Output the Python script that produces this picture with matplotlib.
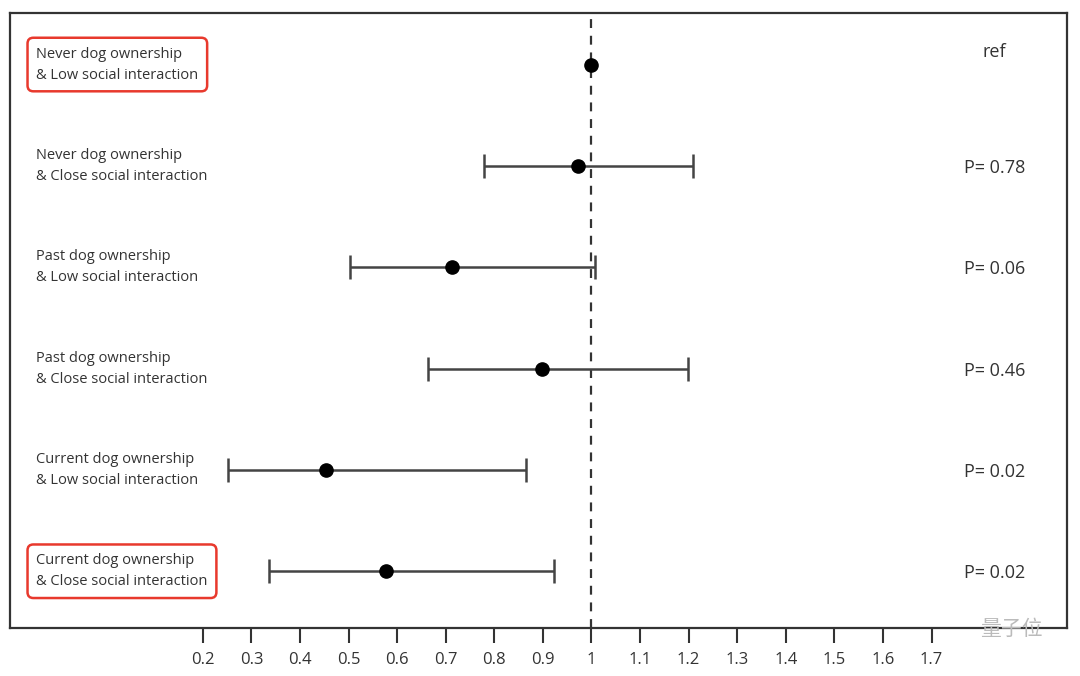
import matplotlib.pyplot as plt

# data
labels = ["Never dog ownership\n& Low social interaction",
          "Never dog ownership\n& Close social interaction",
          "Past dog ownership\n& Low social interaction",
          "Past dog ownership\n& Close social interaction",
          "Current dog ownership\n& Low social interaction",
          "Current dog ownership\n& Close social interaction"]
estimate = [1.0, 0.973, 0.712, 0.899, 0.453, 0.576]
ci_low = [1.0, 0.778, 0.502, 0.663, 0.251, 0.337]
ci_high = [1.0, 1.208, 1.008, 1.198, 0.866, 0.922]
p_text = ["ref", "P= 0.78", "P= 0.06", "P= 0.46", "P= 0.02", "P= 0.02"]
boxed = [True, False, False, False, False, True]
xticks = [0.2, 0.3, 0.4, 0.5, 0.6, 0.7, 0.8, 0.9, 1, 1.1, 1.2, 1.3, 1.4, 1.5, 1.6, 1.7]
xtick_labels = ["0.2", "0.3", "0.4", "0.5", "0.6", "0.7", "0.8", "0.9", "1",
                "1.1", "1.2", "1.3", "1.4", "1.5", "1.6", "1.7"]

plt.rcParams['font.family'] = ['Open Sans', 'Noto Sans CJK SC', 'DejaVu Sans']

fig = plt.figure(figsize=(10.8, 6.76), dpi=100)
ax = fig.add_axes([0.0093, 0.071, 0.9787, 0.910])

n = len(labels)
ypos = [n - 1 - i for i in range(n)]

# error bars (skip the reference row)
for i in range(n):
  if ci_low[i] != ci_high[i]:
    ax.errorbar(estimate[i], ypos[i],
                xerr=[[estimate[i] - ci_low[i]], [ci_high[i] - estimate[i]]],
                fmt="none", ecolor="#444444", elinewidth=1.8,
                capsize=8.5, capthick=1.8, zorder=2)
ax.plot(estimate, ypos, "o", color="black", markersize=9.5, zorder=3)

# reference line
ax.axvline(1, color="#333333", linestyle=(0, (4, 3.5)), linewidth=1.6, zorder=1)

# left labels
for i in range(n):
  box = None
  if boxed[i]:
    box = dict(boxstyle="round,pad=0.6,rounding_size=0.4", ec="#e8392d", fc="none", lw=1.8)
  ax.text(-0.143, ypos[i], labels[i], ha="left", va="center", fontsize=10.5,
          color="#333333", linespacing=1.55, bbox=box)

# p-values
for i in range(n):
  dy = 0.12 if i == 0 else -0.02
  ax.text(1.83, ypos[i] + dy, p_text[i], ha="center", va="center", fontsize=13,
          color="#333333")

# watermark
ax.text(1.80, -0.57, "量子位", ha="left", va="center", fontsize=15, color="#bbbbbb",
        family=['Noto Sans CJK SC', 'DejaVu Sans'], zorder=5)

ax.set_xlim(-0.197, 1.979)
ax.set_ylim(-0.56, n - 1 + 0.51)
ax.set_xticks(xticks)
ax.set_xticklabels(xtick_labels, fontsize=12, color="#333333")
ax.set_yticks([])
ax.tick_params(axis="x", direction="out", length=11, width=1.5, color="#333333", pad=6)
for s in ax.spines.values():
  s.set_color("#333333")
  s.set_linewidth(1.6)

fig.savefig("out.png", dpi=100)
